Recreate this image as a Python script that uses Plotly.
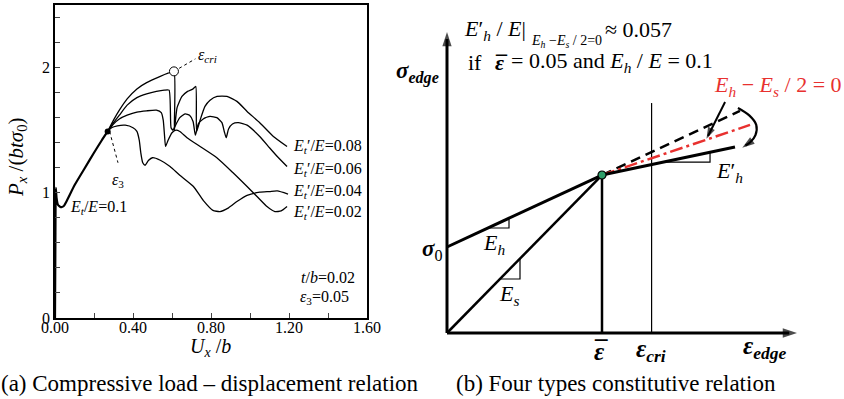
import plotly.graph_objects as go

W, H = 844, 399
SERIF = "Liberation Serif, Times New Roman, serif"

# ---------------- Panel (a): load - displacement data ----------------
common_x = [0.0, 0.002, 0.004, 0.008, 0.015, 0.03, 0.045, 0.06, 0.10, 0.15, 0.20, 0.24, 0.27]
common_y = [0.0, 0.60, 1.04, 0.96, 0.905, 0.885, 0.895, 0.935, 1.06, 1.19, 1.32, 1.42, 1.49]

b008_x = [0.27, 0.30, 0.33, 0.37, 0.42, 0.47, 0.54, 0.58, 0.61, 0.612, 0.626, 0.651, 0.68, 0.708,
          0.722, 0.726, 0.744, 0.769, 0.795, 0.831, 0.882, 0.933, 0.985, 1.05, 1.12, 1.19]
b008_y = [1.49, 1.58, 1.66, 1.75, 1.83, 1.88, 1.93, 1.955, 1.97, 1.50, 1.68, 1.77, 1.81, 1.83,
          1.85, 1.49, 1.58, 1.69, 1.74, 1.77, 1.77, 1.73, 1.65, 1.56, 1.45, 1.37]

b006_x = [0.27, 0.30, 0.33, 0.37, 0.42, 0.47, 0.52, 0.56, 0.585, 0.595, 0.605, 0.615, 0.64, 0.667,
          0.69, 0.708, 0.72, 0.735, 0.76, 0.795, 0.83, 0.856, 0.868, 0.878, 0.89, 0.91, 0.94,
          0.985, 1.05, 1.10, 1.14, 1.19]
b006_y = [1.49, 1.56, 1.62, 1.70, 1.76, 1.79, 1.81, 1.82, 1.82, 1.52, 1.50, 1.53, 1.60, 1.63,
          1.62, 1.57, 1.46, 1.55, 1.59, 1.61, 1.60, 1.56, 1.49, 1.44, 1.51, 1.55, 1.56,
          1.54, 1.45, 1.36, 1.29, 1.21]

b004_x = [0.27, 0.29, 0.32, 0.36, 0.40, 0.42, 0.432, 0.44, 0.45, 0.462, 0.48, 0.50, 0.54, 0.59,
          0.64, 0.71, 0.76, 0.81, 0.846, 0.89, 0.933, 0.985, 1.05, 1.10, 1.14, 1.195]
b004_y = [1.49, 1.52, 1.535, 1.54, 1.52, 1.49, 1.42, 1.32, 1.24, 1.22, 1.26, 1.28, 1.26, 1.21,
          1.14, 1.05, 0.94, 0.86, 0.85, 0.88, 0.93, 0.98, 1.005, 1.01, 1.015, 0.99]

b002_x = [0.27, 0.30, 0.33, 0.37, 0.42, 0.47, 0.52, 0.545, 0.555, 0.562, 0.567, 0.58, 0.60, 0.62,
          0.64, 0.677, 0.744, 0.83, 0.913, 0.985, 1.036, 1.087, 1.128, 1.16, 1.19]
b002_y = [1.49, 1.55, 1.59, 1.62, 1.645, 1.655, 1.66, 1.64, 1.58, 1.45, 1.37, 1.42, 1.48, 1.50,
          1.49, 1.44, 1.37, 1.28, 1.16, 1.05, 0.97, 0.89, 0.85, 0.855, 0.89]

branch_names = ["0.08", "0.06", "0.04", "0.02"]
branch_label_y = [1.37, 1.19, 1.01, 0.84]
eps3_point = (0.27, 1.49)
epscri_point = (0.61, 1.97)

xtick_vals = [0.0, 0.4, 0.8, 1.2, 1.6]
xtick_text = ["0.00", "0.40", "0.80", "1.20", "1.60"]
ytick_vals = [0, 1, 2]
ytick_text = ["0", "1", "2"]

# ---------------- Panel (b): schematic constitutive relation ----------------
eps_bar = 1.0          # strain at the knee
eps_cri = 1.32         # critical strain
sigma0 = 1.0           # yield stress intercept
E_s = 1.837            # secant slope
E_h = 0.837            # hardening slope
E_h_red = 0.61         # slope for E_h - E_s/2 = 0
E_h_prime = 0.38       # reduced hardening slope
eps_axis_end = 2.258
sig_axis_end = 3.5
eps_cri_top = 2.674
end_dash, end_red, end_prime = 1.89, 1.955, 1.858

# ---------------- layout helpers ----------------
def px_x(p):
    return p / W

def px_y(p):
    return 1 - p / H

X2_SCALE, X2_ORIGIN = 155.0, 447.0
Y2_SCALE, Y2_ORIGIN = 86.0, 333.0

def bx(p):  # pixel -> panel (b) x units
    return (p - X2_ORIGIN) / X2_SCALE

def by(p):  # pixel -> panel (b) y units
    return (Y2_ORIGIN - p) / Y2_SCALE

fig = go.Figure()

# ---------- panel (a) traces ----------
branches = [(b008_x, b008_y), (b006_x, b006_y), (b004_x, b004_y), (b002_x, b002_y)]
for cx, cy in branches:
    fig.add_trace(go.Scatter(x=cx, y=cy, mode="lines",
                             line=dict(color="black", width=1.3, shape="spline", smoothing=0.5),
                             xaxis="x", yaxis="y", showlegend=False, hoverinfo="skip"))
fig.add_trace(go.Scatter(x=common_x, y=common_y, mode="lines",
                         line=dict(color="black", width=2.2, shape="spline", smoothing=0.4),
                         xaxis="x", yaxis="y", showlegend=False, hoverinfo="skip"))
fig.add_trace(go.Scatter(x=[epscri_point[0], 0.72], y=[epscri_point[1], 2.07], mode="lines",
                         line=dict(color="black", width=1, dash="dot"),
                         xaxis="x", yaxis="y", showlegend=False, hoverinfo="skip"))
fig.add_trace(go.Scatter(x=[eps3_point[0] + 0.01, 0.323], y=[eps3_point[1], 1.24], mode="lines",
                         line=dict(color="black", width=1, dash="dot"),
                         xaxis="x", yaxis="y", showlegend=False, hoverinfo="skip"))
fig.add_trace(go.Scatter(x=[eps3_point[0]], y=[eps3_point[1]], mode="markers",
                         marker=dict(color="black", size=6),
                         xaxis="x", yaxis="y", showlegend=False, hoverinfo="skip"))
fig.add_trace(go.Scatter(x=[epscri_point[0]], y=[epscri_point[1]], mode="markers",
                         marker=dict(color="white", size=9, line=dict(color="black", width=1)),
                         xaxis="x", yaxis="y", showlegend=False, hoverinfo="skip"))

# ---------- panel (b) traces ----------
def seg(xs, ys, width=3, color="black", dash="solid", shape="linear"):
    fig.add_trace(go.Scatter(x=xs, y=ys, mode="lines",
                             line=dict(color=color, width=width, dash=dash, shape=shape),
                             xaxis="x2", yaxis="y2", showlegend=False, hoverinfo="skip"))

sig_bar = E_s * eps_bar
seg([0, 0], [0, sig_axis_end - 0.08], width=3)
seg([0, eps_axis_end - 0.05], [0, 0], width=3)
seg([eps_cri, eps_cri], [0, eps_cri_top], width=1.2)
seg([eps_bar, eps_bar], [0, sig_bar], width=2.5)
seg([0, eps_bar], [0, sig_bar], width=2.5)
seg([0, eps_bar], [sigma0, sigma0 + E_h * eps_bar], width=3)
seg([eps_bar, end_dash], [sig_bar, sig_bar + E_h * (end_dash - eps_bar)], width=2.5, dash="10px,6px")
seg([eps_bar, end_red], [sig_bar, sig_bar + E_h_red * (end_red - eps_bar)], width=2.5,
    color="#e8312f", dash="13px,4px,3px,4px")
seg([eps_bar, end_prime], [sig_bar, sig_bar + E_h_prime * (end_prime - eps_bar)], width=3)

def tri(x_start, x_end, y0, slope, intercept):
    y_top = intercept + slope * x_end
    seg([x_start, x_end, x_end], [y0, y0, y_top], width=1.2)

tri_h_y = 1.221
tri((tri_h_y - sigma0) / E_h, 0.40, tri_h_y, E_h, sigma0)
tri_s_y = 0.628
tri(tri_s_y / E_s, 0.471, tri_s_y, E_s, 0.0)
tri_p_y = 1.988
tri(eps_bar + (tri_p_y - sig_bar) / E_h_prime, 1.697, tri_p_y,
    E_h_prime, sig_bar - E_h_prime * eps_bar)

ptr_x = [1.794, 1.684]
ptr_y = [2.686, 2.29]
seg(ptr_x, ptr_y, width=2)
curve_x = [1.877, 1.950, 1.995, 1.990, 1.955, 1.925]
curve_y = [2.616, 2.53, 2.42, 2.30, 2.215, 2.18]
seg(curve_x, curve_y, width=2.2, shape="spline")

fig.add_trace(go.Scatter(
    x=[0, eps_axis_end, ptr_x[1] - 0.01, curve_x[-1] - 0.02],
    y=[sig_axis_end, 0, ptr_y[1] - 0.03, curve_y[-1] - 0.025],
    mode="markers",
    marker=dict(symbol="arrow", size=[15, 15, 12, 13], color="black",
                angle=[0.01, 90, 206, 235], line=dict(width=0)),
    xaxis="x2", yaxis="y2", showlegend=False, hoverinfo="skip"))

fig.add_trace(go.Scatter(x=[eps_bar], y=[sig_bar], mode="markers",
                         marker=dict(color="#2e9e6a", size=8, line=dict(color="black", width=1.2)),
                         xaxis="x2", yaxis="y2", showlegend=False, hoverinfo="skip"))

# ---------------- annotations ----------------
ann = []

def A(text, x, y, xref="x", yref="y", size=16, xanchor="left", yanchor="middle",
      color="black", angle=0):
    ann.append(dict(text=text, x=x, y=y, xref=xref, yref=yref, showarrow=False,
                    xanchor=xanchor, yanchor=yanchor, textangle=angle,
                    font=dict(family=SERIF, size=size, color=color)))

# panel (a)
A("<i>ε</i><sub><i>cri</i></sub>", 0.725, 2.10)
A("<i>ε</i><sub>3</sub>", 0.325, 1.10, xanchor="center")
A("<i>E<sub>t</sub></i>/<i>E</i>=0.1", 0.066, 0.885)
for nm, ly in zip(branch_names, branch_label_y):
    A("<i>E<sub>t</sub></i>′/<i>E</i>=" + nm, 1.21, ly)
A("<i>t</i>/<i>b</i>=0.02", 1.25, 0.32)
A("<i>ε</i><sub>3</sub>=0.05", 1.245, 0.165)
A("<i>P<sub>x</sub></i> /(<i>btσ</i><sub>0</sub>)", px_x(17), px_y(158), xref="paper", yref="paper",
  size=21, xanchor="center", angle=-90)
A("<i>U<sub>x</sub></i> /<i>b</i>", px_x(210), px_y(347), xref="paper", yref="paper",
  size=20, xanchor="center")
A("(a) Compressive load – displacement relation", px_x(210), px_y(383), xref="paper",
  yref="paper", size=23, xanchor="center")
A("(b) Four types constitutive relation", px_x(616), px_y(383), xref="paper",
  yref="paper", size=23, xanchor="center")

# panel (b)
R = dict(xref="x2", yref="y2")
A("<i>E</i>′<sub><i>h</i></sub> / <i>E</i>|", bx(528), by(30), size=22, xanchor="right", **R)
A("<i>E</i><sub><i>h</i></sub> −<i>E</i><sub><i>s</i></sub> / 2=0", bx(529), by(41), size=14, **R)
A("≈ 0.057", bx(603), by(29), size=22, **R)
A("if", bx(466), by(62), size=22, **R)
A("<b><i>ε</i></b>", bx(499), by(62), size=22, xanchor="center", **R)
A("<b>¯</b>", bx(501), by(62), size=22, xanchor="center", **R)
A("= 0.05 and <i>E</i><sub><i>h</i></sub> / <i>E</i> = 0.1", bx(509), by(62), size=22, **R)
A("<i>E</i><sub><i>h</i></sub> − <i>E</i><sub><i>s</i></sub> / 2 = 0", bx(778), by(86), size=22,
  xanchor="center", color="#e8312f", **R)
A("<b><i>σ</i></b><sub><b><i>edge</i></b></sub>", bx(441), by(72), size=23, xanchor="right", **R)
A("<b><i>σ</i></b><sub>0</sub>", bx(444), by(250), size=23, xanchor="right", **R)
A("<i>E</i><sub><i>h</i></sub>", bx(481), by(244), size=22, **R)
A("<i>E</i><sub><i>s</i></sub>", bx(497), by(295), size=22, **R)
A("<i>E</i>′<sub><i>h</i></sub>", bx(714), by(172), size=22, **R)
A("<b><i>ε</i></b>", bx(599), by(351), size=25, xanchor="center", **R)
A("<b>¯</b>", bx(601), by(349), size=25, xanchor="center", **R)
A("<b><i>ε</i></b><sub><b><i>cri</i></b></sub>", bx(634), by(350), size=25, **R)
A("<b><i>ε</i></b><sub><b><i>edge</i></b></sub>", bx(741), by(347), size=25, **R)

# ---------------- axes ----------------
fig.update_layout(
    width=W, height=H, margin=dict(l=0, r=0, t=0, b=0, autoexpand=False),
    paper_bgcolor="white", plot_bgcolor="white",
    font=dict(family=SERIF, size=16, color="black"),
    annotations=ann,
    xaxis=dict(domain=[px_x(55), px_x(367)], range=[0, 1.6], tickvals=xtick_vals,
               ticktext=xtick_text, ticks="inside", ticklen=5, tickwidth=1.2,
               minor=dict(tickvals=[0.2, 0.6, 1.0, 1.4], ticks="inside", ticklen=5, tickwidth=1.2),
               showline=True, linecolor="black", linewidth=1.8, mirror=True,
               showgrid=False, zeroline=False, anchor="y", automargin=False,
               ticklabelstandoff=-6,
               tickfont=dict(family=SERIF, size=16)),
    yaxis=dict(domain=[px_y(318), px_y(5)], range=[0, 2.5], tickvals=ytick_vals,
               ticktext=ytick_text, ticks="inside", ticklen=5, tickwidth=1.2,
               minor=dict(tickvals=[0.2, 0.4, 0.6, 0.8, 1.2, 1.4, 1.6, 1.8, 2.2, 2.4],
                          ticks="inside", ticklen=5, tickwidth=1.2),
               showline=True, linecolor="black", linewidth=1.8, mirror=True,
               showgrid=False, zeroline=False, anchor="x", automargin=False,
               tickfont=dict(family=SERIF, size=16)),
    xaxis2=dict(domain=[0.45, 1.0], range=[bx(0.45 * W), bx(W)],
                visible=False, anchor="y2", automargin=False),
    yaxis2=dict(domain=[0, 1], range=[by(H), by(0)], visible=False, anchor="x2",
                automargin=False),
)

fig.write_html("out.html")
